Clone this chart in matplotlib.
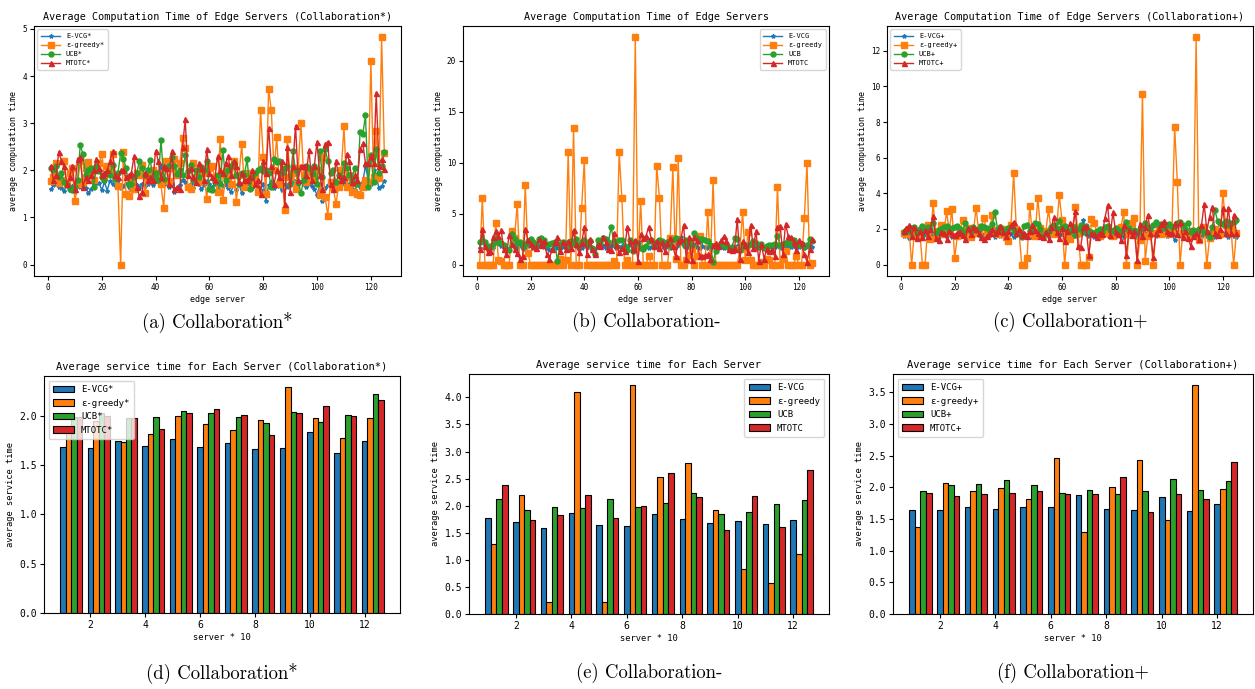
import matplotlib
matplotlib.use("Agg")
import matplotlib.pyplot as plt
import numpy as np

plt.rcParams['font.family'] = ['DejaVu Sans Mono', 'Noto Sans CJK SC']

# ---------------- data: line charts (125 edge servers) ----------------
servers = list(range(1, 126))

# (a) Collaboration*
evcg_a = [1.60, 1.68, 1.72, 1.65, 1.62, 1.57, 1.70, 1.58, 1.66, 1.55,
          1.72, 1.65, 1.75, 1.62, 1.52, 1.60, 1.70, 1.74, 1.73, 1.58,
          1.75, 1.57, 1.78, 1.72, 1.68, 1.80, 1.62, 1.66, 1.70, 1.64,
          1.60, 1.74, 1.68, 1.62, 1.72, 1.66, 1.70, 1.76, 1.68, 1.80,
          1.85, 2.10, 1.82, 1.70, 1.65, 1.72, 1.55, 1.62, 1.68, 1.80,
          1.75, 1.66, 1.70, 1.62, 1.74, 1.72, 1.60, 1.68, 1.78, 1.70,
          1.64, 1.72, 1.60, 1.75, 1.66, 1.70, 1.62, 1.55, 1.68, 1.58,
          1.70, 1.52, 1.66, 1.74, 1.68, 1.62, 1.70, 1.65, 1.58, 1.72,
          1.36, 1.68, 1.76, 1.62, 1.70, 1.66, 1.58, 1.72, 1.64, 1.70,
          1.80, 1.62, 1.68, 1.75, 1.70, 1.64, 1.72, 1.66, 1.60, 1.48,
          1.70, 1.36, 1.62, 1.68, 1.74, 1.66, 1.60, 1.72, 1.68, 1.75,
          1.62, 1.70, 1.66, 1.58, 1.72, 1.64, 1.75, 2.10, 1.80, 1.70,
          2.00, 1.90, 1.62, 1.66, 1.78]
greedy_a = [1.77, 1.85, 2.15, 1.74, 1.80, 2.20, 1.70, 1.95, 2.05, 1.35,
            1.70, 2.20, 1.75, 2.05, 2.18, 1.95, 1.80, 2.00, 2.15, 2.34,
            1.85, 2.10, 2.00, 2.34, 1.90, 1.66, 0.00, 2.38, 1.50, 1.45,
            1.75, 1.60, 1.95, 1.90, 2.12, 1.52, 1.80, 1.95, 2.00, 1.80,
            1.95, 1.70, 1.20, 2.20, 1.78, 2.05, 2.25, 1.90, 2.15, 2.68,
            2.47, 1.65, 1.60, 2.15, 1.85, 1.75, 2.00, 1.95, 1.39, 2.05,
            2.10, 1.85, 1.55, 2.66, 1.37, 1.90, 2.00, 1.70, 2.20, 1.33,
            1.90, 2.55, 1.65, 1.95, 1.80, 1.70, 1.85, 1.55, 3.28, 2.28,
            1.50, 3.72, 3.27, 2.00, 2.70, 1.70, 1.85, 1.16, 2.66, 1.85,
            1.95, 1.60, 2.05, 3.00, 1.90, 1.75, 2.00, 1.80, 1.95, 2.00,
            1.47, 2.28, 1.43, 1.04, 1.75, 1.65, 1.29, 1.65, 2.00, 2.93,
            1.65, 1.90, 1.55, 1.80, 1.50, 1.47, 1.65, 1.80, 1.75, 4.31,
            1.85, 2.83, 1.83, 4.82, 2.37]
ucb_a = [2.04, 2.00, 2.10, 1.85, 1.95, 1.75, 1.68, 1.60, 1.58, 1.65,
         1.80, 2.54, 2.34, 1.90, 2.00, 2.05, 1.65, 2.10, 1.98, 1.85,
         1.80, 1.95, 1.90, 2.12, 1.82, 1.95, 2.36, 2.25, 2.05, 1.72,
         1.72, 1.85, 1.95, 2.20, 2.05, 1.90, 2.00, 2.22, 1.85, 1.95,
         1.80, 2.65, 1.82, 2.05, 2.10, 2.28, 2.10, 1.92, 2.00, 1.90,
         2.32, 1.98, 2.12, 1.80, 2.00, 1.85, 2.08, 2.00, 2.20, 1.60,
         1.58, 1.75, 1.90, 1.72, 2.43, 1.80, 2.00, 2.10, 2.15, 1.90,
         1.72, 1.95, 1.90, 2.24, 1.60, 1.85, 1.95, 2.00, 2.05, 1.98,
         2.00, 1.95, 1.65, 2.24, 2.18, 2.20, 1.95, 2.05, 2.10, 1.70,
         2.40, 2.00, 1.75, 1.51, 1.80, 2.10, 2.05, 1.92, 2.10, 1.70,
         2.40, 1.85, 2.45, 2.20, 1.95, 2.00, 1.75, 1.90, 1.85, 2.15,
         2.05, 1.90, 1.80, 2.05, 1.70, 2.82, 2.76, 3.17, 1.65, 2.33,
         1.75, 2.45, 1.95, 2.10, 2.38]
mtotc_a = [2.10, 1.80, 1.90, 2.39, 2.20, 2.10, 1.70, 1.85, 2.10, 1.60,
           2.25, 2.28, 1.65, 1.85, 1.80, 1.90, 2.00, 2.25, 2.05, 1.90,
           1.95, 2.00, 2.20, 2.40, 1.90, 1.85, 2.00, 2.00, 1.85, 1.90,
           1.95, 2.30, 1.65, 1.45, 1.55, 1.95, 1.80, 1.85, 1.80, 2.42,
           2.20, 1.85, 2.10, 2.05, 1.70, 2.40, 1.60, 1.65, 1.60, 2.50,
           3.08, 1.90, 2.05, 1.85, 1.75, 2.15, 2.05, 1.80, 2.45, 1.95,
           1.85, 1.80, 2.30, 2.00, 1.95, 2.15, 2.30, 1.90, 2.20, 2.10,
           1.75, 1.95, 1.80, 1.80, 1.85, 2.00, 1.70, 1.80, 1.50, 2.20,
           1.95, 2.90, 2.10, 1.70, 2.00, 1.85, 2.20, 1.28, 2.50, 1.55,
           2.10, 2.95, 1.80, 2.10, 2.10, 1.90, 2.43, 1.80, 2.10, 2.61,
           1.90, 1.60, 2.55, 2.61, 1.70, 1.60, 2.20, 1.90, 1.80, 1.85,
           2.35, 2.20, 1.75, 1.90, 1.80, 2.45, 2.57, 2.15, 2.15, 2.30,
           2.15, 3.64, 2.10, 2.25, 2.02]

# (b) Collaboration-
evcg_b = [1.60, 2.80, 1.80, 1.50, 1.70, 1.60, 2.30, 2.00, 1.80, 1.60,
          1.50, 1.40, 2.00, 1.70, 1.60, 1.80, 1.50, 1.70, 1.80, 1.90,
          1.60, 1.70, 1.80, 1.90, 1.70, 1.60, 1.40, 1.50, 1.70, 1.60,
          1.50, 1.70, 1.90, 1.60, 1.80, 3.30, 1.70, 1.50, 1.60, 1.90,
          1.70, 1.80, 1.60, 1.50, 1.70, 1.90, 1.80, 1.60, 1.70, 1.80,
          1.90, 1.60, 1.70, 1.80, 1.60, 1.70, 1.90, 1.60, 1.70, 1.80,
          1.60, 1.70, 1.80, 1.60, 1.70, 1.90, 1.80, 1.60, 1.70, 1.80,
          1.70, 1.60, 1.80, 1.70, 1.90, 2.70, 1.80, 1.60, 1.70, 1.80,
          1.90, 1.70, 1.60, 1.80, 1.70, 1.60, 1.80, 1.70, 1.90, 1.80,
          1.70, 1.60, 1.80, 1.70, 1.50, 1.60, 1.80, 1.70, 1.60, 1.80,
          1.70, 1.90, 1.80, 1.60, 1.70, 1.80, 1.60, 1.70, 1.80, 1.60,
          1.70, 1.80, 1.60, 1.70, 1.80, 1.60, 1.70, 1.80, 1.60, 1.70,
          1.80, 1.60, 1.70, 1.80, 1.75]
greedy_b = [0, 6.55, 0, 0, 0, 0, 4.10, 0.50, 0.40, 0,
            0, 0, 3.30, 2.60, 5.95, 0, 0, 7.80, 1.10, 0,
            0, 0, 0, 0, 0, 0, 0, 0, 0, 0,
            0.60, 0, 0.50, 11.05, 0, 13.40, 0, 0, 5.55, 10.25,
            0, 0, 0, 0, 0, 0, 0, 0, 0, 0,
            0.40, 0, 11.05, 6.55, 0, 0.50, 0, 0, 22.30, 0,
            6.25, 0, 0, 0.85, 0, 0, 9.70, 6.55, 0, 0,
            0, 2.60, 9.55, 0.60, 10.45, 0, 0, 0.50, 0.90, 1.50,
            0, 0.80, 2.80, 0, 0, 5.15, 0, 8.30, 0, 0,
            0, 0, 0, 0, 0, 0, 0, 1.50, 5.15, 0.50,
            3.20, 0.50, 0, 0, 0, 0.30, 0, 0.60, 0.50, 0,
            0, 7.65, 0, 0.60, 1.30, 0, 0, 0, 0.80, 0,
            0, 4.55, 9.95, 0, 0.20]
ucb_b = [2.25, 2.40, 2.20, 1.80, 1.70, 2.00, 2.60, 2.20, 2.10, 1.90,
         1.50, 1.40, 3.00, 2.50, 2.10, 2.20, 1.80, 2.00, 2.30, 2.50,
         2.20, 2.00, 2.50, 2.60, 2.40, 1.90, 2.00, 2.10, 2.20, 0.40,
         2.00, 2.20, 2.10, 1.80, 2.30, 2.00, 2.50, 1.90, 2.20, 2.40,
         2.10, 2.30, 1.60, 1.00, 2.40, 2.20, 2.60, 2.50, 2.20, 3.70,
         2.30, 1.80, 2.40, 2.40, 1.80, 1.40, 2.40, 1.30, 2.20, 2.10,
         1.60, 1.50, 1.80, 2.30, 2.40, 2.00, 2.20, 2.40, 2.30, 2.10,
         2.20, 1.90, 2.40, 2.60, 2.50, 2.30, 2.00, 2.40, 2.10, 1.90,
         3.10, 2.60, 2.30, 2.50, 2.40, 2.30, 1.90, 0.30, 1.30, 1.70,
         2.10, 1.90, 1.80, 1.60, 1.70, 2.60, 2.50, 1.40, 2.00, 1.80,
         1.90, 2.00, 2.30, 2.10, 1.70, 2.00, 1.60, 1.80, 1.90, 1.90,
         2.00, 2.80, 1.90, 2.00, 2.10, 2.30, 2.00, 2.40, 2.10, 1.90,
         2.00, 1.70, 1.90, 2.50, 2.30]
mtotc_b = [1.50, 3.50, 1.80, 1.20, 1.30, 2.70, 3.30, 2.80, 3.40, 1.50,
           1.00, 2.90, 2.00, 1.50, 1.10, 0.60, 0.80, 3.50, 2.40, 2.00,
           1.80, 1.60, 2.50, 1.90, 2.30, 1.00, 0.60, 1.50, 2.20, 2.70,
           1.30, 2.20, 1.50, 2.30, 1.60, 3.40, 2.00, 1.20, 2.10, 3.70,
           1.00, 2.50, 1.50, 1.00, 2.00, 1.80, 2.70, 2.20, 1.50, 1.40,
           3.10, 1.90, 1.20, 1.60, 1.30, 3.70, 2.30, 1.50, 2.40, 0.40,
           3.00, 2.60, 2.80, 3.70, 2.50, 1.80, 2.30, 1.60, 2.20, 1.30,
           2.10, 2.60, 1.80, 0.80, 2.30, 2.50, 3.90, 0.60, 2.70, 0.50,
           2.70, 2.40, 0.80, 0.80, 0.90, 1.00, 0.60, 1.90, 2.10, 1.80,
           2.40, 2.80, 2.30, 1.50, 1.40, 1.50, 4.50, 0.60, 2.30, 1.90,
           1.20, 3.90, 1.60, 3.30, 0.40, 2.00, 0.60, 1.50, 1.30, 1.40,
           0.80, 3.70, 3.80, 1.00, 4.00, 2.80, 2.70, 2.20, 1.40, 2.40,
           2.10, 1.00, 0.30, 1.50, 2.50]

# (c) Collaboration+
evcg_c = [1.60, 1.70, 1.50, 1.65, 1.75, 1.55, 1.60, 1.70, 1.65, 1.55,
          1.70, 1.60, 1.75, 1.55, 1.65, 1.70, 1.60, 1.75, 1.55, 1.65,
          1.70, 1.60, 1.75, 1.65, 1.55, 1.70, 1.60, 1.75, 1.65, 1.55,
          1.70, 1.60, 1.65, 1.75, 1.55, 1.70, 1.60, 1.65, 1.75, 1.60,
          1.70, 1.55, 1.65, 1.75, 1.60, 1.70, 1.65, 1.55, 1.75, 1.60,
          1.70, 1.65, 1.55, 1.75, 1.60, 1.70, 1.65, 1.80, 1.60, 1.70,
          1.65, 1.55, 1.75, 1.60, 1.70, 1.65, 1.80, 2.50, 1.70, 1.60,
          1.75, 1.55, 1.65, 1.70, 1.60, 1.75, 1.65, 1.55, 1.70, 1.60,
          1.75, 1.65, 1.55, 1.70, 1.60, 1.75, 1.65, 1.55, 1.70, 1.60,
          1.75, 1.65, 1.55, 1.70, 1.60, 1.75, 1.65, 1.70, 1.60, 1.75,
          1.65, 1.40, 1.70, 1.60, 1.75, 1.65, 1.55, 1.70, 1.60, 1.75,
          1.65, 1.55, 1.70, 1.60, 1.75, 1.65, 1.55, 1.70, 1.60, 1.75,
          1.65, 1.55, 1.70, 1.60, 1.55]
greedy_c = [1.80, 1.70, 2.00, 0, 1.85, 1.60, 1.90, 0, 0, 2.20,
            1.45, 3.45, 1.60, 1.90, 2.25, 1.70, 3.00, 1.85, 3.12, 0.35,
            1.60, 1.90, 2.50, 1.70, 2.05, 1.55, 1.80, 3.20, 1.75, 2.10,
            2.60, 1.70, 1.90, 2.80, 1.95, 1.70, 1.80, 2.00, 1.55, 1.30,
            2.20, 5.15, 2.00, 1.85, 0, 0, 0.35, 3.30, 1.70, 1.60,
            3.75, 2.05, 1.75, 1.90, 3.10, 1.85, 1.70, 2.00, 3.90, 2.50,
            0, 1.80, 1.45, 2.10, 3.25, 1.75, 0, 0, 0, 0.45,
            2.55, 2.35, 1.80, 1.60, 1.90, 1.75, 2.05, 1.70, 1.60, 1.90,
            1.80, 2.10, 2.95, 0, 1.70, 2.35, 2.60, 0, 1.40, 9.60,
            0.20, 1.60, 1.75, 0, 1.80, 2.00, 1.70, 1.85, 1.95, 1.70,
            1.90, 7.72, 4.62, 0, 1.80, 1.65, 1.90, 1.70, 1.85, 12.75,
            1.40, 1.90, 2.10, 0, 1.50, 1.75, 2.00, 1.85, 1.70, 4.03,
            2.20, 1.80, 2.00, 0, 1.80]
ucb_c = [1.85, 1.95, 1.90, 2.05, 2.10, 1.80, 2.00, 2.15, 1.85, 2.10,
         2.00, 2.35, 1.75, 1.95, 2.00, 2.10, 2.15, 1.90, 2.05, 2.10,
         2.15, 2.00, 1.85, 2.35, 2.00, 1.90, 2.10, 1.95, 2.00, 2.15,
         2.10, 2.05, 1.90, 2.30, 2.93, 2.00, 2.10, 1.95, 1.85, 2.05,
         2.10, 1.95, 1.80, 1.75, 1.55, 2.15, 2.25, 1.90, 2.05, 2.35,
         2.30, 2.00, 1.55, 1.80, 1.90, 2.10, 2.20, 2.00, 2.47, 2.10,
         2.15, 1.95, 1.90, 2.10, 1.65, 2.00, 2.20, 1.85, 2.15, 1.90,
         1.85, 1.75, 1.90, 2.00, 1.85, 2.10, 2.15, 1.95, 1.90, 2.05,
         1.95, 1.85, 2.00, 2.40, 2.05, 1.90, 1.95, 1.85, 2.00, 2.15,
         2.35, 2.10, 2.00, 2.25, 2.40, 2.20, 2.30, 2.05, 2.25, 2.30,
         2.10, 2.15, 2.35, 2.40, 2.20, 2.00, 2.35, 1.85, 1.95, 1.90,
         2.00, 1.95, 1.85, 1.80, 1.55, 2.10, 3.05, 2.45, 2.35, 2.30,
         2.45, 2.20, 2.35, 2.40, 2.52]
mtotc_c = [1.90, 2.05, 2.20, 1.60, 2.10, 1.50, 1.90, 1.55, 1.95, 1.60,
           2.00, 2.75, 1.50, 1.40, 1.85, 1.75, 1.45, 1.90, 1.70, 1.65,
           1.80, 1.85, 1.65, 1.45, 2.05, 1.70, 2.10, 2.00, 1.80, 1.55,
           1.45, 1.60, 1.80, 2.00, 1.75, 1.90, 2.15, 1.85, 1.60, 1.90,
           2.20, 2.40, 1.75, 2.00, 1.65, 1.80, 1.60, 1.90, 2.25, 1.95,
           1.80, 1.60, 1.55, 1.85, 1.45, 2.10, 2.65, 1.85, 1.50, 2.05,
           1.30, 1.90, 2.35, 2.00, 3.00, 1.05, 1.00, 2.10, 2.15, 0.55,
           1.75, 1.70, 1.55, 1.80, 1.70, 2.60, 3.35, 1.65, 2.95, 1.85,
           1.70, 1.40, 2.20, 0.55, 1.95, 1.65, 1.90, 0.25, 2.30, 1.60,
           2.10, 2.80, 1.80, 0.45, 1.75, 2.00, 2.30, 2.45, 1.90, 1.75,
           1.80, 2.35, 1.70, 2.40, 1.55, 1.90, 1.50, 1.05, 1.60, 1.75,
           1.45, 2.20, 3.40, 1.90, 2.70, 3.25, 1.80, 1.65, 2.00, 3.15,
           1.75, 3.20, 1.80, 2.80, 1.80]

# ---------------- data: bar charts (12 groups) ----------------
groups = list(range(1, 13))
bar_evcg_d = [1.68, 1.67, 1.75, 1.69, 1.77, 1.68, 1.72, 1.66, 1.67, 1.84, 1.62, 1.74]
bar_greedy_d = [1.90, 1.95, 1.73, 1.82, 2.00, 1.92, 1.86, 1.96, 2.29, 1.98, 1.78, 1.98]
bar_ucb_d = [1.99, 2.03, 1.98, 1.99, 2.05, 2.03, 1.99, 1.93, 2.04, 1.94, 2.01, 2.22]
bar_mtotc_d = [1.99, 2.00, 1.98, 1.87, 2.03, 2.07, 2.01, 1.81, 2.03, 2.10, 2.00, 2.16]

bar_evcg_e = [1.77, 1.69, 1.59, 1.87, 1.64, 1.63, 1.84, 1.76, 1.68, 1.71, 1.66, 1.73]
bar_greedy_e = [1.30, 2.20, 0.22, 4.10, 0.23, 4.22, 2.53, 2.78, 1.92, 0.83, 0.57, 1.11]
bar_ucb_e = [2.13, 1.92, 1.98, 1.95, 2.12, 1.98, 2.05, 2.23, 1.84, 1.88, 2.03, 2.11]
bar_mtotc_e = [2.39, 1.73, 1.82, 2.19, 1.77, 1.99, 2.61, 2.16, 1.56, 2.18, 1.61, 2.66]

bar_evcg_f = [1.65, 1.64, 1.69, 1.66, 1.69, 1.69, 1.88, 1.66, 1.65, 1.85, 1.63, 1.73]
bar_greedy_f = [1.37, 2.07, 1.95, 1.99, 1.81, 2.46, 1.30, 2.01, 2.43, 1.48, 3.61, 1.98]
bar_ucb_f = [1.94, 2.03, 2.06, 2.11, 2.03, 1.91, 1.96, 1.89, 1.95, 2.13, 1.96, 2.10]
bar_mtotc_f = [1.91, 1.86, 1.89, 1.91, 1.94, 1.90, 1.89, 2.17, 1.61, 1.90, 1.82, 2.40]

line_titles = ["Average Computation Time of Edge Servers (Collaboration*)",
               "Average Computation Time of Edge Servers",
               "Average Computation Time of Edge Servers (Collaboration+)"]
bar_titles = ["Average service time for Each Server (Collaboration*)",
              "Average service time for Each Server",
              "Average service time for Each Server (Collaboration+)"]
suffixes = ["*", "", "+"]
captions_top = ["(a) Collaboration*", "(b) Collaboration-", "(c) Collaboration+"]
captions_bot = ["(d) Collaboration*", "(e) Collaboration-", "(f) Collaboration+"]
names = ["E-VCG", "ε-greedy", "UCB", "MTOTC"]
colors = ["#1f77b4", "#ff7f0e", "#2ca02c", "#d62728"]
markers = ["*", "s", "o", "^"]
msizes = [3.0, 4.0, 3.6, 3.6]

line_data = [[evcg_a, greedy_a, ucb_a, mtotc_a],
             [evcg_b, greedy_b, ucb_b, mtotc_b],
             [evcg_c, greedy_c, ucb_c, mtotc_c]]
bar_data = [[bar_evcg_d, bar_greedy_d, bar_ucb_d, bar_mtotc_d],
            [bar_evcg_e, bar_greedy_e, bar_ucb_e, bar_mtotc_e],
            [bar_evcg_f, bar_greedy_f, bar_ucb_f, bar_mtotc_f]]

W, H = 1255, 689
fig = plt.figure(figsize=(W / 100, H / 100), dpi=100)

def px_axes(l, t, r, b):
    return fig.add_axes([l / W, 1 - b / H, (r - l) / W, (b - t) / H])

top_boxes = [(34, 26, 401, 276), (463, 26, 829, 276), (887, 26, 1253, 276)]
bot_boxes = [(44, 376, 400, 613), (469, 374, 829, 614), (893, 374, 1253, 614)]
line_legend_loc = ["upper left", "upper right", "upper left"]
bar_legend_loc = ["upper left", "upper right", "upper left"]

for i in range(3):
    ax = px_axes(*top_boxes[i])
    for k in range(4):
        ax.plot(servers, line_data[i][k], color=colors[k], marker=markers[k],
                markersize=msizes[k], linewidth=1.0, label=names[k] + suffixes[i])
    ax.set_title(line_titles[i], fontsize=7.3, pad=4)
    ax.set_xlabel("edge server", fontsize=6, labelpad=2)
    ax.set_ylabel("average computation time", fontsize=6, labelpad=3)
    ax.tick_params(labelsize=5.5, length=3, pad=2)
    ax.legend(loc=line_legend_loc[i], fontsize=5, handlelength=2.8,
              labelspacing=0.45, borderpad=0.5, framealpha=0.8)
    cx = (top_boxes[i][0] + top_boxes[i][2]) / 2 / W
    fig.text(cx, 1 - 322 / H, captions_top[i], ha="center", va="center",
             fontsize=13.5, family="cmr10")

for i in range(3):
    ax = px_axes(*bot_boxes[i])
    x = np.array(groups, dtype=float)
    for k in range(4):
        ax.bar(x + k * 0.2, bar_data[i][k], width=0.2, color=colors[k],
               edgecolor="black", linewidth=0.8, label=names[k] + suffixes[i])
    ax.set_title(bar_titles[i], fontsize=7.5, pad=4)
    ax.set_xlabel("server * 10", fontsize=6.3, labelpad=2)
    ax.set_ylabel("average service time", fontsize=6.3, labelpad=3)
    ax.set_xticks([2, 4, 6, 8, 10, 12])
    ax.tick_params(labelsize=7, length=3, pad=2)
    ax.legend(loc=bar_legend_loc[i], fontsize=6.5, handlelength=2.3,
              labelspacing=0.5, borderpad=0.5, framealpha=0.8)
    cx = (bot_boxes[i][0] + bot_boxes[i][2]) / 2 / W
    fig.text(cx, 1 - 673 / H, captions_bot[i], ha="center", va="center",
             fontsize=13.5, family="cmr10")

fig.savefig("out.png", dpi=100)
